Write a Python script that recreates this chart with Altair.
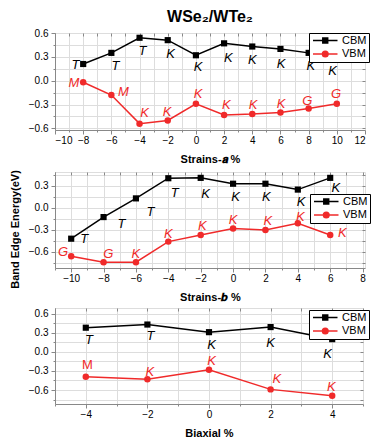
import altair as alt
import pandas as pd

FONT = "Liberation Sans"
BLACK = "#000000"
RED = "#f02a2a"

# ---------------- data: Strains-a ----------------
xa = [-8, -6, -4, -2, 0, 2, 4, 6, 8, 10]
cbm_a = [0.21, 0.35, 0.54, 0.51, 0.32, 0.47, 0.43, 0.40, 0.35, 0.29]
vbm_a = [-0.02, -0.18, -0.54, -0.50, -0.29, -0.43, -0.42, -0.40, -0.35, -0.29]
cbm_a_labels = ["T", "T", "T", "K", "K", "K", "K", "K", "K", "K"]
vbm_a_labels = ["M", "M", "K", "K", "K", "K", "K", "K", "G", "G"]
cbm_a_lab_x = [-8.55, -5.7, -3.8, -1.8, 0.15, 2.3, 4.0, 6.05, 8.15, 9.7]
cbm_a_lab_y = [0.20, 0.19, 0.37, 0.34, 0.17, 0.28, 0.26, 0.21, 0.19, 0.12]
vbm_a_lab_x = [-8.65, -5.15, -3.65, -2.05, 0.15, 2.15, 4.05, 6.05, 7.9, 9.95]
vbm_a_lab_y = [-0.03, -0.14, -0.41, -0.39, -0.17, -0.30, -0.30, -0.29, -0.25, -0.17]

# ---------------- data: Strains-b ----------------
xb = [-10, -8, -6, -4, -2, 0, 2, 4, 6]
cbm_b = [-0.42, -0.125, 0.13, 0.405, 0.41, 0.33, 0.33, 0.25, 0.41]
vbm_b = [-0.66, -0.74, -0.74, -0.46, -0.37, -0.28, -0.30, -0.21, -0.37]
cbm_b_labels = ["T", "T", "T", "T", "K", "K", "K", "K", "K"]
vbm_b_labels = ["G", "G", "K", "K", "K", "K", "K", "K", "K"]
cbm_b_lab_x = [-9.2, -6.9, -5.1, -3.6, -1.7, 0.15, 2.05, 4.2, 6.35]
cbm_b_lab_y = [-0.43, -0.22, -0.06, 0.20, 0.19, 0.15, 0.15, 0.08, 0.27]
vbm_b_lab_x = [-10.5, -7.7, -6.0, -4.0, -1.9, 0.0, 2.15, 4.15, 6.75]
vbm_b_lab_y = [-0.60, -0.63, -0.63, -0.36, -0.25, -0.17, -0.18, -0.12, -0.34]

# ---------------- data: Biaxial ----------------
xc = [-4, -2, 0, 2, 4]
cbm_c = [0.38, 0.43, 0.31, 0.39, 0.20]
vbm_c = [-0.39, -0.43, -0.28, -0.59, -0.69]
cbm_c_labels = ["T", "T", "K", "K", "K"]
vbm_c_labels = ["M", "K", "K", "K", "K"]
cbm_c_lab_x = [-3.9, -1.9, 0.08, 2.0, 3.85]
cbm_c_lab_y = [0.18, 0.245, 0.115, 0.14, -0.03]
vbm_c_lab_x = [-3.95, -1.92, 0.08, 2.2, 3.97]
vbm_c_lab_y = [-0.21, -0.31, -0.15, -0.42, -0.55]

SERIES = ["CBM", "VBM"]
SQ_PATH = "M-1,0H6M1.8,-0.7H3.2V0.7H1.8Z"
CI_PATH = "M-1,0H6M3.3,0A0.8,0.8,0,1,1,1.7,0A0.8,0.8,0,1,1,3.3,0Z"
STYLE = {"CBM": (BLACK, "square", 38), "VBM": (RED, "circle", 42)}


def panel(x, cbm, vbm, cl, vl, clx, cly, vlx, vly, xdom, xvals, ydom, yvals,
          xtitle, ytitle, legx, legy, w, h, upright_m=False, title=None):
    n = len(x)
    pts = pd.DataFrame({"x": x + x, "y": cbm + vbm,
                        "series": ["CBM"] * n + ["VBM"] * n})
    labs = pd.DataFrame({"x": clx + vlx, "y": cly + vly, "text": cl + vl,
                         "series": ["CBM"] * len(cl) + ["VBM"] * len(vl)})
    xaxis = alt.Axis(
        values=xvals, title=xtitle,
        labelExpr="datum.value % 2 == 0 ? format(datum.value, 'd') : ''",
        tickSize={"condition": {"test": "datum.value % 2 == 0", "value": 4}, "value": 2},
        labelPadding=1, titlePadding=8, labelOverlap=False,
    )
    ytest = "abs(datum.value / 0.3 - round(datum.value / 0.3)) < 0.01"
    yaxis_kw = dict(
        values=yvals, title=ytitle,
        labelExpr=f"{ytest} ? format(datum.value, '.1f') : ''",
        tickSize={"condition": {"test": ytest, "value": 4}, "value": 2},
        labelPadding=3, labelOverlap=False,
    )
    if ytitle:
        yaxis_kw.update(titlePadding=8, titleY=57)
    yaxis = alt.Axis(**yaxis_kw)
    xs = alt.Scale(domain=xdom, nice=False, zero=False)
    ys = alt.Scale(domain=ydom, nice=False, zero=False)
    xe = alt.X("x:Q", scale=xs, axis=xaxis)
    ye = alt.Y("y:Q", scale=ys, axis=yaxis)
    xn = alt.X("x:Q", scale=xs, axis=None)
    yn = alt.Y("y:Q", scale=ys, axis=None)
    xt = alt.X("x:Q", scale=xs, axis=alt.Axis(
        orient="top", values=xvals, labels=False, domain=False, title=None,
        tickSize=3, offset=-3))
    yt = alt.Y("y:Q", scale=ys, axis=alt.Axis(
        orient="right", values=yvals, labels=False, domain=False, title=None,
        tickSize=3, offset=-3))

    base = alt.Chart(pts)
    lb = alt.Chart(labs)
    layers = []
    for i, s in enumerate(SERIES):
        col, shp, sz = STYLE[s]
        f = f"datum.series == '{s}'"
        ex, ey = (xe, ye) if i == 0 else (xn, yn)
        layers.append(base.transform_filter(f).mark_line(strokeWidth=1.5, color=col)
                      .encode(x=ex, y=ey))
        layers.append(base.transform_filter(f).mark_point(
            shape=shp, filled=True, size=sz, opacity=1, color=col).encode(x=xn, y=yn))
        tf = f
        if upright_m and s == "VBM":
            tf = f + " && datum.text != 'M'"
        layers.append(lb.transform_filter(tf).mark_text(
            font=FONT, fontSize=13, fontStyle="italic", align="center", baseline="middle",
            color=col).encode(x=xn, y=yn, text="text:N"))
    if upright_m:
        layers.append(lb.transform_filter("datum.series == 'VBM' && datum.text == 'M'").mark_text(
            font=FONT, fontSize=13, align="center", baseline="middle", color=RED
        ).encode(x=xn, y=yn, text="text:N"))
    # inward ticks on the top and right edges of the frame
    layers.append(base.mark_point(opacity=0).encode(x=xt, y=yt))

    color_scale = alt.Scale(domain=SERIES, range=[BLACK, RED])
    shape_scale = alt.Scale(domain=SERIES, range=[SQ_PATH, CI_PATH])
    leg = alt.Legend(title=None, orient="none", legendX=legx, legendY=legy,
                     symbolSize=49, symbolStrokeWidth=1.5, symbolOpacity=1,
                     labelFont=FONT, labelFontSize=11, labelOffset=20,
                     padding=2, rowPadding=1.5, strokeColor="black", fillColor="white")
    # legend carrier: drawn far outside the clipped plot area, only its legend shows
    layers.append(base.mark_point(filled=True, clip=True, xOffset=5000, opacity=1).encode(
        x=xn, y=yn,
        fill=alt.Fill("series:N", scale=color_scale, legend=leg),
        stroke=alt.Stroke("series:N", scale=color_scale, legend=leg),
        shape=alt.Shape("series:N", scale=shape_scale, legend=leg),
    ))
    ch = alt.layer(*layers).resolve_axis(x="independent", y="independent").properties(
        width=w, height=h)
    if title:
        ch = ch.properties(title=alt.TitleParams(title, font=FONT, fontSize=16, fontWeight="bold",
                                                 anchor="middle", frame="group", offset=3))
    return ch


p1 = panel(xa, cbm_a, vbm_a, cbm_a_labels, vbm_a_labels, cbm_a_lab_x, cbm_a_lab_y,
           vbm_a_lab_x, vbm_a_lab_y, [-10, 12], list(range(-10, 13)),
           [-0.62, 0.6], [round(-0.6 + 0.15 * i, 2) for i in range(9)],
           "Strains-𝒂 %", None, 254, 0, 310, 97, title="WSe₂/WTe₂")
p2 = panel(xb, cbm_b, vbm_b, cbm_b_labels, vbm_b_labels, cbm_b_lab_x, cbm_b_lab_y,
           vbm_b_lab_x, vbm_b_lab_y, [-11, 8.15], list(range(-11, 9)),
           [-0.82, 0.49], [round(-0.75 + 0.15 * i, 2) for i in range(9)],
           "Strains-𝒃 %", "Band Edge Energy(eV)", 255, 22, 310, 96)
p3 = panel(xc, cbm_c, vbm_c, cbm_c_labels, vbm_c_labels, cbm_c_lab_x, cbm_c_lab_y,
           vbm_c_lab_x, vbm_c_lab_y, [-5, 5], list(range(-5, 6)),
           [-0.82, 0.69], [round(-0.75 + 0.15 * i, 2) for i in range(10)],
           "Biaxial %", None, 254, 2, 308, 96, upright_m=True)

chart = alt.vconcat(p1, p2, p3, spacing=4).resolve_scale(
    fill="independent", stroke="independent", shape="independent"
).resolve_legend(
    fill="independent", stroke="independent", shape="independent"
).configure_view(
    stroke="black", strokeWidth=1
).configure_axis(
    grid=False, domainColor="black", tickColor="black", labelColor="black",
    titleColor="black", labelFont=FONT, labelFontSize=12, labelFontWeight="bold",
    titleFont=FONT, titleFontSize=12, titleFontWeight="bold", tickWidth=1,
).configure(background="white", padding=0)

chart.save("out.html", embed_options={"renderer": "svg", "actions": False})
